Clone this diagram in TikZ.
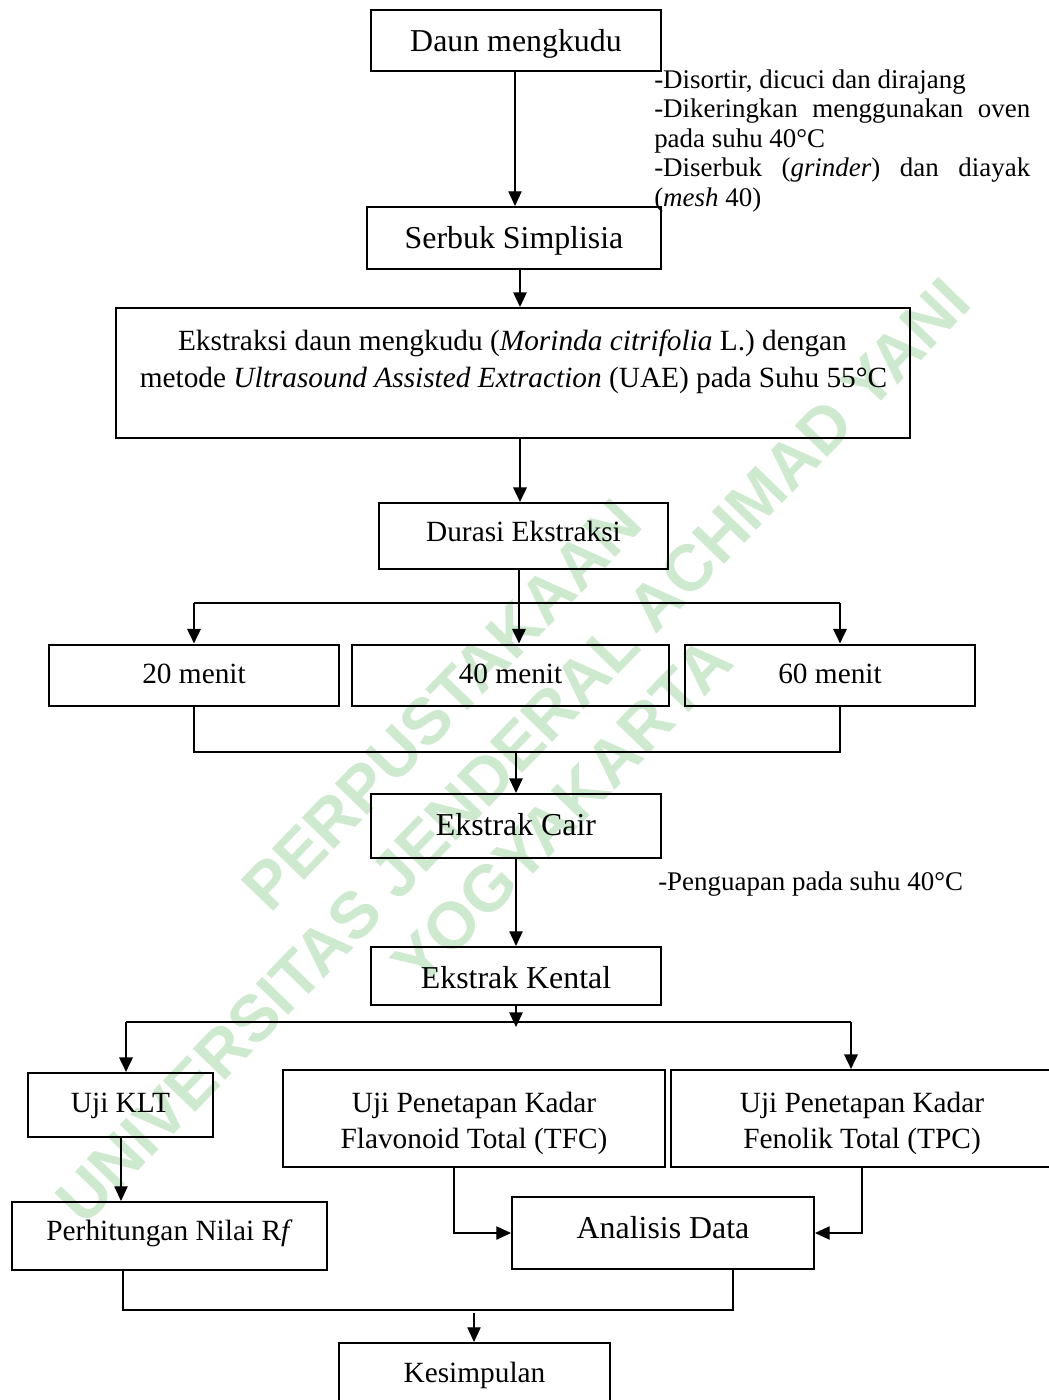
\documentclass[tikz,border=0pt]{standalone}
\usepackage{fontspec}
\setmainfont{Liberation Serif}
\newfontfamily\wmfont{Liberation Sans}
\usetikzlibrary{arrows.meta}
\definecolor{wmgreen}{RGB}{206,234,206}
\begin{document}
\begin{tikzpicture}[x=0.75pt,y=-0.75pt,
  box/.style={draw,line width=1.5pt,inner sep=0pt,align=center},
  bl/.style={text height=#1,text depth=0pt},
  fa/.style={font=\fontsize{22}{27}\selectfont},
  fb/.style={font=\fontsize{23.9}{28}\selectfont},
  fc/.style={font=\fontsize{20.2}{22}\selectfont},
  txt/.style={anchor=base,inner sep=0pt},
  arr/.style={-{Triangle[length=11pt,width=10pt]}},
  thinl/.style={line width=0.8pt},
  midl/.style={line width=1.3pt},
  thickl/.style={line width=1.9pt},
  wm/.style={text=wmgreen,font=\wmfont\bfseries\fontsize{49}{49}\selectfont,rotate=46,inner sep=0pt}]
\useasboundingbox (0,0) rectangle (1049,1400);
\clip (0,0) rectangle (1049,1400);
\fill[white] (0,0) rectangle (1049,1400);
% watermark
\node[wm] (wmA) at (442,705) {PERPUSTAKAAN};
\node[wm] (wmB) at (513,751) {UNIVERSITAS JENDERAL ACHMAD YANI};
\node[wm] (wmC) at (562,812) {YOGYAKARTA};
% boxes
\node[box,bl=15.75pt,fb,minimum width=217.5pt,minimum height=45.75pt] (daun) at (516,40.5) {Daun mengkudu};
\node[box,bl=15pt,fb,minimum width=220.5pt,minimum height=46.5pt] (serbuk) at (514,238) {Serbuk Simplisia};
\node[box,minimum width=595.5pt,minimum height=97.5pt] (ext) at (513,373) {};
\node[fa,txt] (extA) at (512.5,350) {Ekstraksi daun mengkudu (\textit{Morinda citrifolia} L.) dengan};
\node[fa,txt] (extB) at (513.5,387) {metode \textit{Ultrasound Assisted Extraction} (UAE) pada Suhu 55°C};
\node[box,bl=8.5pt,fa,minimum width=216.75pt,minimum height=49.5pt] (dur) at (523.5,536) {Durasi Ekstraksi};
\node[box,bl=12pt,fa,minimum width=217.5pt,minimum height=45.75pt] (m20) at (194,675) {20 menit};
\node[box,bl=12pt,fa,minimum width=237.75pt,minimum height=45.75pt] (m40) at (510.5,675) {40 menit};
\node[box,bl=12pt,fa,minimum width=217.5pt,minimum height=45.75pt] (m60) at (830,675) {60 menit};
\node[box,bl=13.5pt,fb,minimum width=217.5pt,minimum height=48pt] (cair) at (516,826) {Ekstrak Cair};
\node[box,bl=18pt,fb,minimum width=217.5pt,minimum height=43.5pt] (kental) at (516,976) {Ekstrak Kental};
\node[box,bl=10.5pt,fa,minimum width=138.75pt,minimum height=48pt] (klt) at (120.5,1105) {Uji KLT};
\node[box,minimum width=286.5pt,minimum height=72.75pt] (tfc) at (474,1118.5) {};
\node[fa,txt] (tfcA) at (474,1112) {Uji Penetapan Kadar};
\node[fa,txt] (tfcB) at (474,1148) {Flavonoid Total (TFC)};
\node[box,minimum width=286.5pt,minimum height=72.75pt] (tpc) at (862,1118.5) {};
\node[fa,txt] (tpcA) at (862,1112) {Uji Penetapan Kadar};
\node[fa,txt] (tpcB) at (862,1148) {Fenolik Total (TPC)};
\node[box,bl=6pt,fa,minimum width=236.25pt,minimum height=51pt] (rf) at (169.5,1236) {Perhitungan Nilai R\textit{f}};
\node[box,bl=7.5pt,fb,minimum width=226.5pt,minimum height=54pt] (ana) at (663,1233) {Analisis Data};
\node[box,bl=12pt,fa,minimum width=203.25pt,minimum height=46.5pt] (kes) at (474.5,1374) {Kesimpulan};
% side notes
\node[fc,anchor=base west,inner sep=0pt] (n1) at (654,88) {-Disortir, dicuci dan dirajang};
\node[fc,anchor=base west,inner sep=0pt] (n2) at (654,117.5) {\hbox to 282pt{-Dikeringkan\hfill menggunakan\hfill oven}};
\node[fc,anchor=base west,inner sep=0pt] (n3) at (654,147) {pada suhu 40°C};
\node[fc,anchor=base west,inner sep=0pt] (n4) at (654,176.5) {\hbox to 282pt{-Diserbuk\hfill (\textit{grinder})\hfill dan\hfill diayak}};
\node[fc,anchor=base west,inner sep=0pt] (n5) at (654,206) {(\textit{mesh} 40)};
\node[fc,anchor=base west,inner sep=0pt] (n6) at (658,890) {-Penguapan pada suhu 40°C};
% junction coordinates
\coordinate (xa) at (515,0);
\coordinate (xb) at (520,0);
\coordinate (j1) at (519,603);
\coordinate (j1l) at (194,603);
\coordinate (j1r) at (840,603);
\coordinate (j2) at (516,752);
\coordinate (j2l) at (194,752);
\coordinate (j2r) at (840,752);
\coordinate (j3) at (516,1027);
\coordinate (j3l) at (126,1022);
\coordinate (j3r) at (851,1022);
\coordinate (xr) at (121,0);
\coordinate (xf) at (454,0);
\coordinate (xp) at (862,0);
\coordinate (j5l) at (123,1310);
\coordinate (j5r) at (733,1310);
\coordinate (j5) at (474,1313);
% connectors
\draw[thinl,arr] (daun.south -| xa) -- (serbuk.north -| xa);
\draw[midl,arr] (serbuk.south -| xb) -- (ext.north -| xb);
\draw[thickl,arr] (ext.south -| xb) -- (dur.north -| xb);
\draw[thickl] (dur.south -| j1) -- (j1);
\draw[thickl] (j1l) -- (j1r);
\draw[thickl,arr] (j1l) -- (m20.north -| j1l);
\draw[thickl,arr] (j1) -- (m40.north -| j1);
\draw[thickl,arr] (j1r) -- (m60.north -| j1r);
\draw[thinl] (m20.south -| j2l) -- (j2l) -- (j2r) -- (m60.south -| j2r);
\draw[midl,arr] (j2) -- (cair.north -| j2);
\draw[thinl,arr] (cair.south -| j2) -- (kental.north -| j2);
\draw[thickl] (j3l) -- (j3r);
\draw[midl,arr] (kental.south -| j3) -- (j3);
\draw[thickl,arr] (j3l) -- (klt.north -| j3l);
\draw[thickl,arr] (j3r) -- (tpc.north -| j3r);
\draw[thinl,arr] (klt.south -| xr) -- (rf.north -| xr);
\draw[thinl,arr] (tfc.south -| xf) |- (ana.west);
\draw[thinl,arr] (tpc.south -| xp) |- (ana.east);
\draw[thinl] (rf.south -| j5l) -- (j5l) -- (j5r) -- (ana.south -| j5r);
\draw[thinl,arr] (j5) -- (kes.north -| j5);
\end{tikzpicture}
\end{document}
